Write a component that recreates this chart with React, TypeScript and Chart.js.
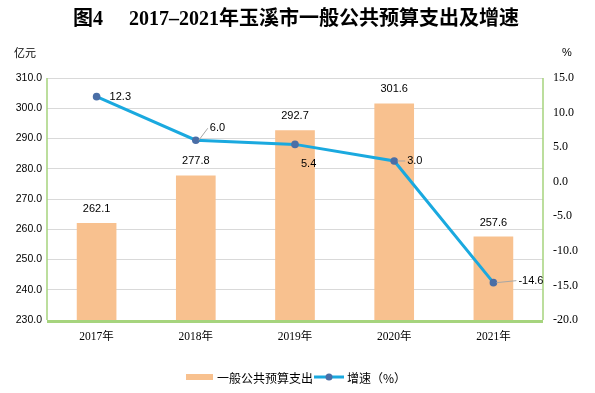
import React, { useEffect, useRef } from 'react';
import { Chart, registerables } from 'chart.js';

Chart.register(...registerables);

const categories = ['2017年', '2018年', '2019年', '2020年', '2021年'];
const expenditure = [262.1, 277.8, 292.7, 301.6, 257.6];
const growth = [12.3, 6.0, 5.4, 3.0, -14.6];
const leftMin = 230;
const leftMax = 310;
const leftStep = 10;
const rightMin = -20;
const rightMax = 15;
const rightStep = 5;
const titleNo = '图4';
const titleText = '2017–2021年玉溪市一般公共预算支出及增速';
const leftUnit = '亿元';
const rightUnit = '%';
const barLegend = '一般公共预算支出';
const lineLegend = '增速（%）';

// label placement styles for the growth labels: [dx, dy, leader]
const lineLabelStyle: [number, number, boolean][] = [
  [13, 0, false],
  [14, -12, true],
  [6, 20, false],
  [13, 0, true],
  [25, -2, true],
];

const BAR_COLOR = '#F8C18F';
const LINE_COLOR = '#1AA9DF';
const POINT_COLOR = '#4A6EA6';
const GREEN = '#A6D47E';
const SANS = '"Liberation Sans", Arial, sans-serif';
const SERIF = '"Liberation Serif", "Times New Roman", serif';
const CJK = '"Noto Sans CJK SC", sans-serif';

const decorPlugin = {
  id: 'decor',
  beforeDatasetsDraw(chart: any) {
    const { ctx, chartArea } = chart;
    ctx.save();
    ctx.strokeStyle = GREEN;
    ctx.lineWidth = 1.5;
    ctx.beginPath();
    ctx.moveTo(chartArea.left, chartArea.top);
    ctx.lineTo(chartArea.left, chartArea.bottom);
    ctx.moveTo(chartArea.right, chartArea.top);
    ctx.lineTo(chartArea.right, chartArea.bottom);
    ctx.stroke();
    ctx.restore();
  },
  afterDatasetsDraw(chart: any) {
    const { ctx, chartArea } = chart;
    ctx.save();
    // bottom border
    ctx.strokeStyle = GREEN;
    ctx.lineWidth = 3;
    ctx.beginPath();
    ctx.moveTo(chartArea.left, chartArea.bottom + 1.5);
    ctx.lineTo(chartArea.right, chartArea.bottom + 1.5);
    ctx.stroke();

    // bar labels
    const barMeta = chart.getDatasetMeta(1);
    ctx.fillStyle = '#000';
    ctx.font = `11px ${SANS}`;
    ctx.textAlign = 'center';
    ctx.textBaseline = 'middle';
    barMeta.data.forEach((el: any, i: number) => {
      ctx.fillText(expenditure[i].toFixed(1), el.x, el.y - 14);
    });

    // line labels
    const lineMeta = chart.getDatasetMeta(0);
    lineMeta.data.forEach((el: any, i: number) => {
      const [dx, dy, leader] = lineLabelStyle[i];
      const tx = el.x + dx;
      const ty = el.y + dy;
      if (leader) {
        ctx.strokeStyle = '#A6A6A6';
        ctx.lineWidth = 1;
        ctx.beginPath();
        ctx.moveTo(el.x + 3, el.y);
        ctx.lineTo(tx - 2, ty);
        ctx.stroke();
      }
      ctx.fillStyle = '#000';
      ctx.textAlign = 'left';
      ctx.fillText(growth[i].toFixed(1), tx, ty);
    });
    ctx.restore();
  },
  afterDraw(chart: any) {
    const { ctx } = chart;
    ctx.save();
    ctx.fillStyle = '#000';
    ctx.textBaseline = 'middle';
    ctx.textAlign = 'left';
    ctx.font = `bold 20px ${SERIF}, ${CJK}`;
    ctx.fillText(titleNo, 73, 20);
    ctx.fillText(titleText, 129, 20);

    ctx.font = `11px ${CJK}`;
    ctx.fillText(leftUnit, 14, 53);
    ctx.font = `11px ${SANS}`;
    ctx.fillText(rightUnit, 562, 53);

    // legend
    ctx.fillStyle = BAR_COLOR;
    ctx.fillRect(186, 374, 27, 6);
    ctx.fillStyle = '#000';
    ctx.font = `12px ${CJK}`;
    ctx.fillText(barLegend, 217, 378);
    ctx.strokeStyle = LINE_COLOR;
    ctx.lineWidth = 3;
    ctx.beginPath();
    ctx.moveTo(314, 377);
    ctx.lineTo(344, 377);
    ctx.stroke();
    ctx.fillStyle = POINT_COLOR;
    ctx.beginPath();
    ctx.arc(329, 377, 3.5, 0, Math.PI * 2);
    ctx.fill();
    ctx.fillStyle = '#000';
    ctx.fillText(lineLegend, 347, 378);
    ctx.restore();
  },
};

export default function App() {
  const ref = useRef<HTMLCanvasElement>(null);
  useEffect(() => {
    document.body.style.margin = '0';
    const chart = new Chart(ref.current!, {
      type: 'bar',
      data: {
        labels: categories,
        datasets: [
          {
            type: 'line',
            label: lineLegend,
            data: growth,
            yAxisID: 'y1',
            borderColor: LINE_COLOR,
            borderWidth: 3,
            pointBackgroundColor: POINT_COLOR,
            pointBorderColor: POINT_COLOR,
            pointBorderWidth: 0,
            pointRadius: 3.8,
            tension: 0,
            order: 0,
          } as any,
          {
            type: 'bar',
            label: barLegend,
            data: expenditure,
            yAxisID: 'y',
            backgroundColor: BAR_COLOR,
            categoryPercentage: 1,
            barPercentage: 0.4,
            order: 1,
          },
        ],
      },
      options: {
        responsive: false,
        animation: false,
        layout: { padding: { top: 78, left: 0, right: 0, bottom: 0 } },
        plugins: { legend: { display: false }, tooltip: { enabled: false } },
        scales: {
          x: {
            grid: { display: false, drawTicks: false },
            border: { display: false },
            ticks: { font: { family: SERIF + ', ' + CJK, size: 11.5 }, color: '#000', padding: 10 },
            afterFit(scale: any) { scale.height = 73; },
          },
          y: {
            position: 'left',
            min: leftMin,
            max: leftMax,
            ticks: {
              stepSize: leftStep,
              callback: (v: any) => Number(v).toFixed(1),
              font: { family: SANS, size: 10.5 },
              color: '#000',
              padding: 5,
            },
            grid: { color: '#D9D9D9', drawTicks: false, lineWidth: 1 },
            border: { display: false },
            afterFit(scale: any) { scale.width = 47; },
          },
          y1: {
            position: 'right',
            min: rightMin,
            max: rightMax,
            ticks: {
              stepSize: rightStep,
              callback: (v: any) => Number(v).toFixed(1),
              font: { family: SERIF, size: 12 },
              color: '#000',
              padding: 10,
            },
            grid: { display: false, drawTicks: false },
            border: { display: false },
            afterFit(scale: any) { scale.width = 52; },
          },
        },
      },
      plugins: [decorPlugin],
    });
    return () => chart.destroy();
  }, []);
  return <canvas ref={ref} width={595} height={393} style={{ display: 'block' }} />;
}
